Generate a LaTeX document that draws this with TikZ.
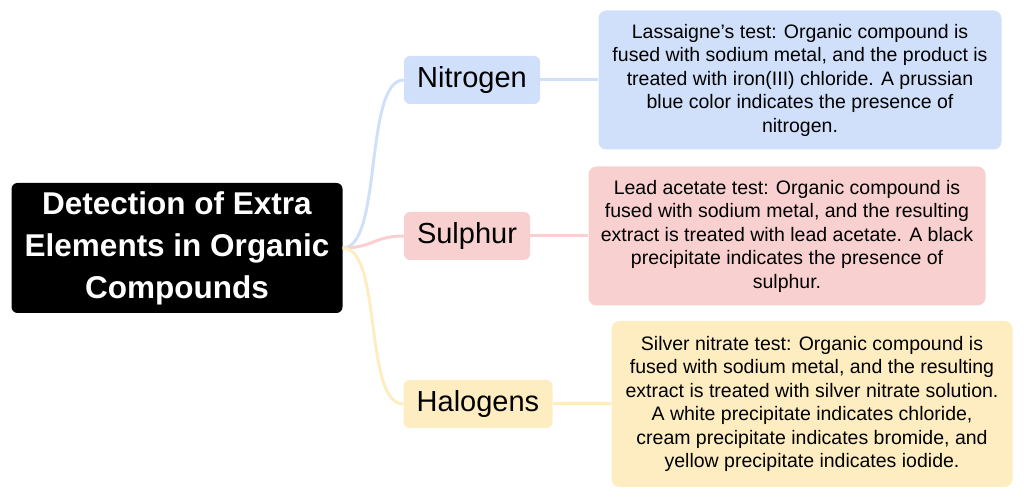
\documentclass[tikz,border=0pt]{standalone}
\usepackage{fontspec}
\setmainfont{Liberation Sans}
\usetikzlibrary{positioning}
\definecolor{nblue}{HTML}{D0E0FA}
\definecolor{spink}{HTML}{F8D0D0}
\definecolor{hyell}{HTML}{FDEDC0}
\tikzset{
    branch/.style={rounded corners=6pt, minimum height=48pt, inner xsep=10pt, font=\fontsize{29}{32}\selectfont},
    info/.style={rounded corners=8pt, align=center, font=\fontsize{19.5}{23.5}\selectfont},
    link/.style={line width=3pt}
}
\begin{document}
\begin{tikzpicture}[x=1pt, y=1pt]
    \useasboundingbox (0,0) rectangle (1024,497);
    \node[fill=black, rounded corners=6pt, minimum width=331pt, minimum height=130pt, align=center, text=white, font=\fontsize{31.5}{42}\selectfont\bfseries] (root) at (177,249) {Detection of Extra\\Elements in Organic\\Compounds};

    \node[branch, fill=nblue, minimum width=136pt] (n) at (472,417) {Nitrogen};
    \node[branch, fill=spink, minimum width=126pt] (s) at (467,261) {Sulphur};
    \node[branch, fill=hyell, minimum width=149pt] (h) at (478,93) {Halogens};

    \node[info, fill=nblue, minimum width=403pt, minimum height=139pt] (nt) at (800,417) {Lassaigne’s test: Organic compound is\\fused with sodium metal, and the product is\\treated with iron(III) chloride. A prussian\\blue color indicates the presence of\\nitrogen.};
    \node[info, fill=spink, minimum width=397pt, minimum height=139pt] (st) at (787,261) {Lead acetate test: Organic compound is\\fused with sodium metal, and the resulting\\extract is treated with lead acetate. A black\\precipitate indicates the presence of\\sulphur.};
    \node[info, fill=hyell, minimum width=401pt, minimum height=166pt] (ht) at (812,93) {Silver nitrate test: Organic compound is\\fused with sodium metal, and the resulting\\extract is treated with silver nitrate solution.\\A white precipitate indicates chloride,\\cream precipitate indicates bromide, and\\yellow precipitate indicates iodide.};

    \begin{scope}[on background layer/.try]
    \draw[link, nblue] (root.east) .. controls +(40,0) and +(-40,0) .. (n.west);
    \draw[link, spink] (root.east) .. controls +(30,0) and +(-30,0) .. (s.west);
    \draw[link, hyell] (root.east) .. controls +(40,0) and +(-40,0) .. (h.west);
    \draw[link, nblue] (n) -- (nt);
    \draw[link, spink] (s) -- (st);
    \draw[link, hyell] (h) -- (ht);
    \end{scope}
\end{tikzpicture}
\end{document}
